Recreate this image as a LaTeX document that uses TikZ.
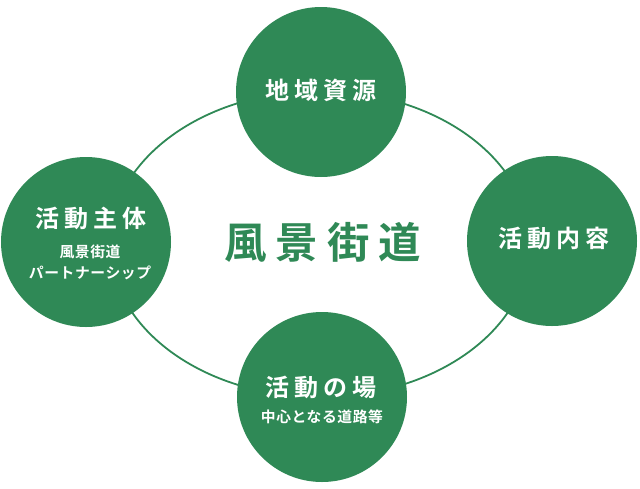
\documentclass[tikz,border=0pt]{standalone}
\usepackage{fontspec}
\usepackage{tikz}
\usetikzlibrary{positioning,shapes.geometric}
\newfontfamily\jpbig[LetterSpace=21]{Noto Sans CJK JP Bold}
\newfontfamily\jptitle[LetterSpace=20]{Noto Sans CJK JP Bold}
\newfontfamily\jpsub[LetterSpace=4]{Noto Sans CJK JP Bold}
\definecolor{mygreen}{HTML}{2F8956}
\tikzset{
  ball/.style={circle, fill=mygreen, draw=none, minimum size=170pt, inner sep=0pt},
  ttl/.style={text=white, font=\jptitle\fontsize{24}{28}\selectfont, inner sep=0pt},
  sub/.style={text=white, font=\jpsub\fontsize{14.8}{17}\selectfont, inner sep=0pt},
  ring/.style={draw=mygreen, line width=1.8pt},
}
\begin{document}
\begin{tikzpicture}[x=1pt, y=-1pt]
    \useasboundingbox (0,0) rectangle (640,488);
    \coordinate (mid) at (320,244);
    \draw[ring] (mid) ellipse [x radius=210, y radius=153];
    \node[ball] (res) at (321,92) {};
    \node[ball] (act) at (86,242) {};
    \node[ball] (cnt) at (552,241) {};
    \node[ball] (plc) at (322,397) {};
    \node[ttl] (res-t) at (321,90) {地域資源};
    \node[ttl] (act-t) at (91,218) {活動主体};
    \node[sub] (act-s1) at (90,252) {風景街道};
    \node[sub] (act-s2) at (90,273) {パートナーシップ};
    \node[ttl] (cnt-t) at (554,238) {活動内容};
    \node[ttl] (plc-t) at (321,387) {活動の場};
    \node[sub] (plc-s) at (322,417) {中心となる道路等};
    \node[text=mygreen, font=\jpbig\fontsize{42.5}{46}\selectfont, inner sep=0pt] (name) at (323,242) {風景街道};
  \end{tikzpicture}
\end{document}
